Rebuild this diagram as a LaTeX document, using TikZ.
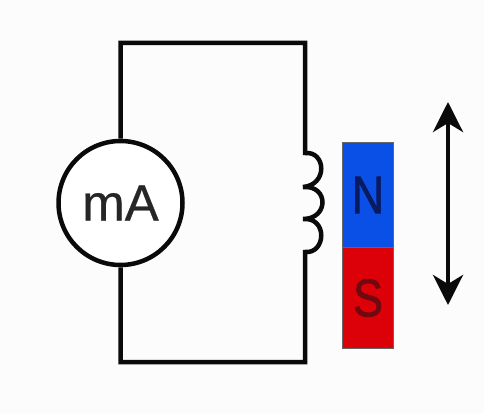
\documentclass[tikz,border=0pt]{standalone}
\usepackage{fontspec}
\setmainfont{Liberation Sans}
\newfontfamily\heavyA[FakeBold=0.5]{Liberation Sans}
\newfontfamily\heavyB[FakeBold=1.5]{Liberation Sans}
\usetikzlibrary{arrows.meta}
\definecolor{wirec}{HTML}{0A0A0A}
\definecolor{nblue}{HTML}{0A50E6}
\definecolor{sred}{HTML}{DC0008}
\definecolor{ntext}{HTML}{081A60}
\definecolor{stext}{HTML}{700810}
\tikzset{
  wire/.style={draw=wirec,line width=4.5pt,line join=miter},
  meter/.style={circle,draw=wirec,line width=4.5pt,fill=white,minimum size=124pt,inner sep=0pt,font=\heavyA\fontsize{51pt}{51pt}\selectfont,text=black!85},
  pole/.style={draw=black!60,line width=1pt,minimum width=51pt,inner sep=0pt,font=\heavyB\fontsize{53pt}{53pt}\selectfont},
  motion/.style={draw=wirec,line width=4.5pt,{Stealth[length=30pt,width=30pt,inset=9pt]}-{Stealth[length=30pt,width=30pt,inset=9pt]}}
}
\begin{document}
\begin{tikzpicture}[x=1pt,y=-1pt]
\useasboundingbox[fill=white!99!black] (0,0) rectangle (484,414);
\node[meter] (ma) at (120.5,203) {mA};
\coordinate (tl) at (120.5,43);
\coordinate (tr) at (305,43);
\coordinate (bl) at (120.5,362);
\coordinate (br) at (305,362);
\coordinate (c0) at (305,153);
\coordinate (c1) at (303,187);
\coordinate (c2) at (303,219);
\coordinate (c3) at (305,252);
\draw[wire] (ma.north) -- (tl) -- (tr) -- (c0)
  .. controls (326,151) and (328,185) .. (c1)
  .. controls (329,185) and (329,219) .. (c2)
  .. controls (328,217) and (326,254) .. (c3)
  -- (br) -- (bl) -- (ma.south);
\node[pole,fill=nblue,text=ntext,minimum height=105pt,anchor=north west] (n) at (342,142) {\raisebox{-2pt}{\scalebox{0.85}[1]{N}}};
\node[pole,fill=sred,text=stext,minimum height=101pt,anchor=north west] (s) at (342,247) {\scalebox{0.85}[1]{S}};
\coordinate (up) at (448,102);
\coordinate (down) at (448,305);
\draw[motion] (up) -- (down);
\end{tikzpicture}
\end{document}
